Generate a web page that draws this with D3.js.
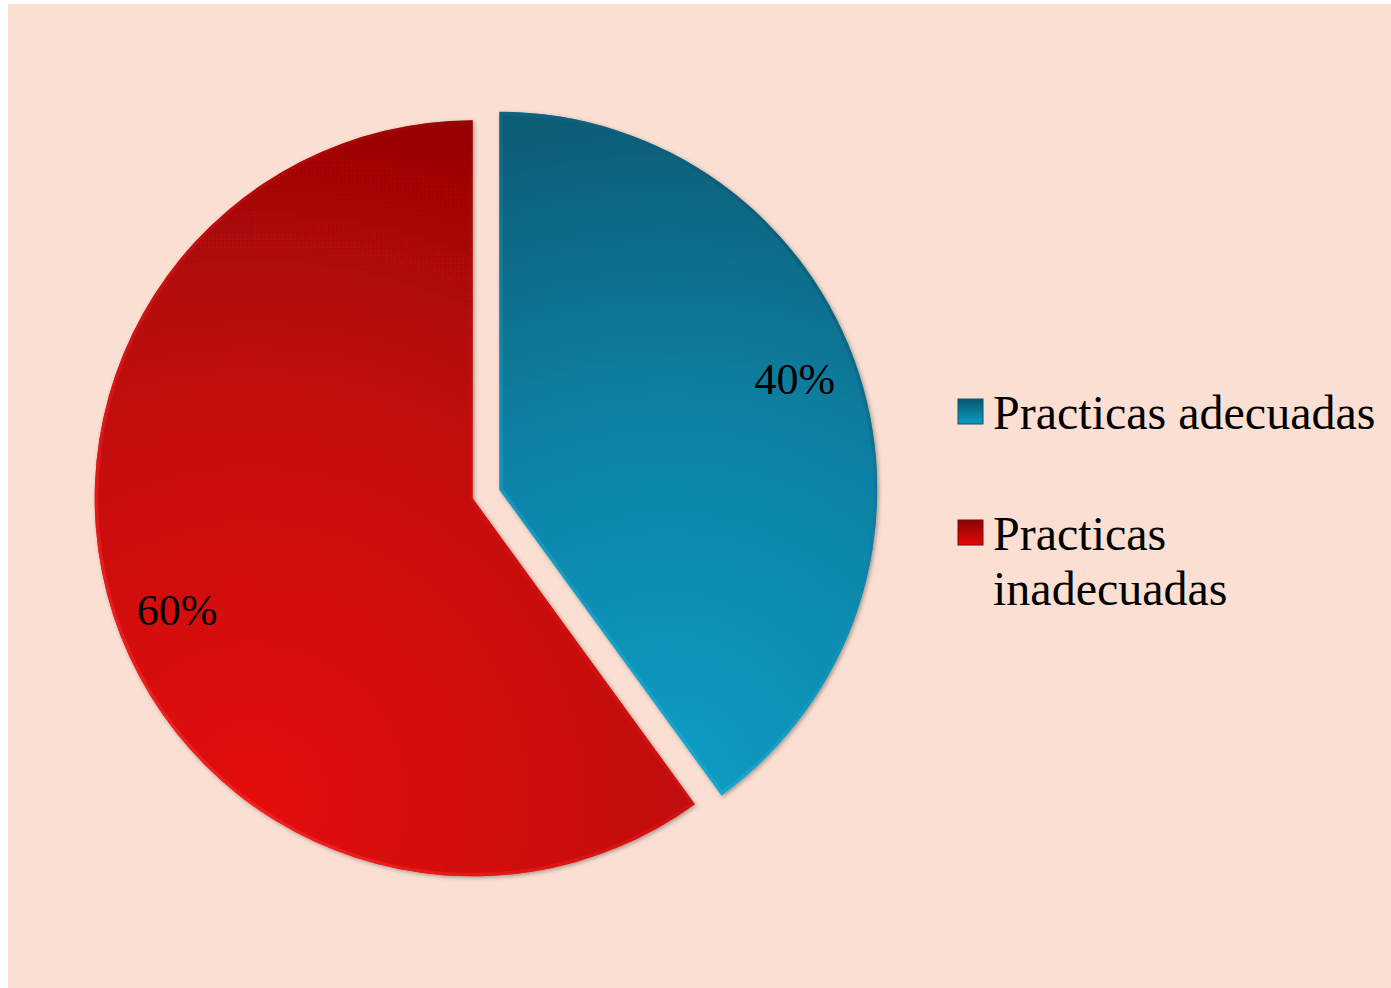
<!DOCTYPE html>
<html>
<head>
<meta charset="utf-8">
<script src="https://cdn.jsdelivr.net/npm/d3@7"></script>
<style>
  html, body { margin: 0; padding: 0; background: #ffffff; }
  svg { display: block; }
</style>
</head>
<body>
<script>
const categories = ["Practicas adecuadas", "Practicas inadecuadas"];
const values = [40, 60];
const valueLabels = ["40%", "60%"];
const colorsLight = ["#0a9dc4", "#e40808"];
const colorsDark = ["#09566e", "#880505"];
const colorsBase = ["#0a82a6", "#c40808"];

const W = 1391, H = 988;
const svg = d3.select("body").append("svg").attr("width", W).attr("height", H);

svg.append("rect").attr("x", 8).attr("y", 4).attr("width", W - 8).attr("height", H - 4).attr("fill", "#fbdfd3");

const defs = svg.append("defs");
const cx = 486, cy = 494, R = 378, explode = 14;
const labelShift = -0.045; // label position angle tweak (radians)

const shadow = defs.append("filter").attr("id", "shadow").attr("x", "-10%").attr("y", "-10%").attr("width", "120%").attr("height", "120%");
shadow.append("feDropShadow").attr("dx", 1.5).attr("dy", 1.5).attr("stdDeviation", 2).attr("flood-color", "#000").attr("flood-opacity", 0.35);

const pie = d3.pie().sort(null).startAngle(0).endAngle(2 * Math.PI)(values);
const arc = d3.arc().innerRadius(0).outerRadius(R);
const labelArc = d3.arc().innerRadius(R * 0.835).outerRadius(R * 0.835);

const gradCenters = [[170, 290], [-220, 300]];
pie.forEach((d, i) => {
  const g = defs.append("radialGradient").attr("id", "fill" + i)
    .attr("gradientUnits", "userSpaceOnUse")
    .attr("cx", gradCenters[i][0]).attr("cy", gradCenters[i][1]).attr("r", i === 0 ? 720 : 800);
  g.append("stop").attr("offset", 0).attr("stop-color", colorsLight[i]);
  g.append("stop").attr("offset", 0.5).attr("stop-color", colorsBase[i]);
  g.append("stop").attr("offset", 1).attr("stop-color", colorsDark[i]);
  const b = defs.append("linearGradient").attr("id", "bevel" + i)
    .attr("gradientUnits", "userSpaceOnUse")
    .attr("x1", -R).attr("y1", R).attr("x2", R).attr("y2", -R);
  b.append("stop").attr("offset", 0).attr("stop-color", i === 0 ? "#3fd4ff" : "#ff3030").attr("stop-opacity", 0.85);
  b.append("stop").attr("offset", 0.5).attr("stop-color", i === 0 ? "#20b0dc" : "#e01010").attr("stop-opacity", 0.4);
  b.append("stop").attr("offset", 1).attr("stop-color", i === 0 ? "#03303f" : "#4a0000").attr("stop-opacity", 0.6);
  defs.append("clipPath").attr("id", "clip" + i).append("path").attr("d", arc(d));
});

const slices = svg.selectAll("g.slice").data(pie).enter().append("g")
  .attr("class", "slice")
  .attr("transform", d => {
    const a = (d.startAngle + d.endAngle) / 2;
    return `translate(${cx + explode * Math.sin(a)},${cy - explode * Math.cos(a)})`;
  });

slices.append("path").attr("d", arc).attr("fill", (d, i) => `url(#fill${i})`).attr("filter", "url(#shadow)");
slices.append("path").attr("d", arc).attr("fill", "none")
  .attr("stroke", (d, i) => `url(#bevel${i})`).attr("stroke-width", 7)
  .attr("clip-path", (d, i) => `url(#clip${i})`);

slices.append("text")
  .attr("transform", d => `translate(${labelArc.centroid({startAngle: d.startAngle + labelShift, endAngle: d.endAngle + labelShift})})`)
  .attr("text-anchor", "middle").attr("dy", "0.35em")
  .attr("font-family", "'Liberation Serif', 'Times New Roman', serif")
  .attr("font-size", 44).attr("fill", "#000")
  .text((d, i) => valueLabels[i]);

// legend
const legendX = 958, legendTextX = 993, maxW = 392;
const legendY = [429, 550];
const lineH = 55;
categories.forEach((c, i) => {
  const lg = defs.append("linearGradient").attr("id", "lg" + i).attr("x1", 0).attr("y1", 0).attr("x2", 0).attr("y2", 1);
  lg.append("stop").attr("offset", 0).attr("stop-color", colorsDark[i]);
  lg.append("stop").attr("offset", 1).attr("stop-color", colorsLight[i]);
  svg.append("rect").attr("x", legendX).attr("y", legendY[i] - 30).attr("width", 25).attr("height", 25)
    .attr("fill", `url(#lg${i})`).attr("stroke", colorsDark[i]).attr("stroke-width", 1);
  const t = svg.append("text").attr("x", legendTextX).attr("y", legendY[i])
    .attr("font-family", "'Liberation Serif', 'Times New Roman', serif")
    .attr("font-size", 48).attr("fill", "#000");
  const words = c.split(" ");
  let line = [], ts = t.append("tspan").attr("x", legendTextX).attr("dy", 0);
  words.forEach(w => {
    line.push(w);
    ts.text(line.join(" "));
    if (ts.node().getComputedTextLength() > maxW && line.length > 1) {
      line.pop(); ts.text(line.join(" "));
      line = [w];
      ts = t.append("tspan").attr("x", legendTextX).attr("dy", lineH).text(w);
    }
  });
});
</script>
</body>
</html>
